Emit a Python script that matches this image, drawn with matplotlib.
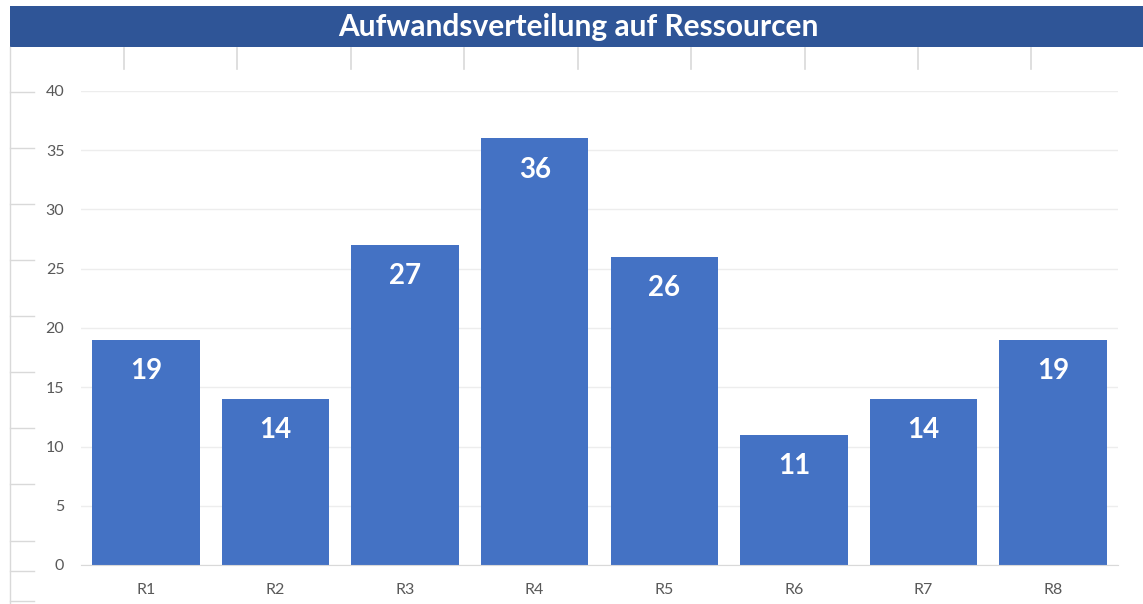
import matplotlib
matplotlib.use("Agg")
import matplotlib.pyplot as plt
from matplotlib.lines import Line2D
from matplotlib.patches import Rectangle

# chart data
categories = ['R1', 'R2', 'R3', 'R4', 'R5', 'R6', 'R7', 'R8']
values = [19, 14, 27, 36, 26, 11, 14, 19]
y_ticks = [0, 5, 10, 15, 20, 25, 30, 35, 40]
title = 'Aufwandsverteilung auf Ressourcen'

W, H = 1143, 604
plt.rcParams['font.family'] = ['Lato', 'DejaVu Sans']

fig = plt.figure(figsize=(W / 100, H / 100), dpi=100)


def fx(px):
    return px / W


def fy(py):
    return 1 - py / H


# spreadsheet background bits
grid_col = '#d9d9d9'
fig.add_artist(Line2D([fx(10), fx(10)], [fy(47), fy(604)], color=grid_col, lw=1))
for py in [92, 148, 204, 260, 316, 372, 428, 484, 541, 571, 601]:
    fig.add_artist(Line2D([fx(10), fx(34)], [fy(py), fy(py)], color=grid_col, lw=1))
for px in [124, 237, 351, 464, 578, 691, 805, 918, 1031]:
    fig.add_artist(Line2D([fx(px), fx(px)], [fy(48), fy(69)], color=grid_col, lw=1.2))

# title bar
fig.add_artist(Rectangle((fx(10), fy(47)), fx(1143) - fx(10), fy(6) - fy(47),
                         color='#2f5597', transform=fig.transFigure, lw=0))
fig.text(fx(578), fy(27), title, color='white', fontsize=21.5, fontweight='bold',
         ha='center', va='center')

ax = fig.add_axes([fx(81), fy(565), fx(1118) - fx(81), fy(91) - fy(565)])
x = range(len(categories))
bars = ax.bar(x, values, width=0.83, color='#4472c4', zorder=2)

for b, v in zip(bars, values):
    ax.annotate(str(v), (b.get_x() + b.get_width() / 2, v), xytext=(0, -22.5),
                textcoords='offset points', ha='center', va='center',
                color='white', fontsize=20, fontweight='bold')

ax.set_xlim(-0.5, len(categories) - 0.5)
ax.set_ylim(0, 40)
ax.set_yticks(y_ticks)
ax.set_xticks(list(x))
ax.set_xticklabels(categories)
ax.yaxis.grid(True, color='#ededed', lw=1, zorder=0)
ax.tick_params(axis='both', length=0, labelcolor='#595959', labelsize=11.5)
ax.tick_params(axis='y', pad=12)
ax.tick_params(axis='x', pad=13)
for s in ['top', 'right', 'left']:
    ax.spines[s].set_visible(False)
ax.spines['bottom'].set_color('#d9d9d9')

fig.savefig('out.png', dpi=100)
